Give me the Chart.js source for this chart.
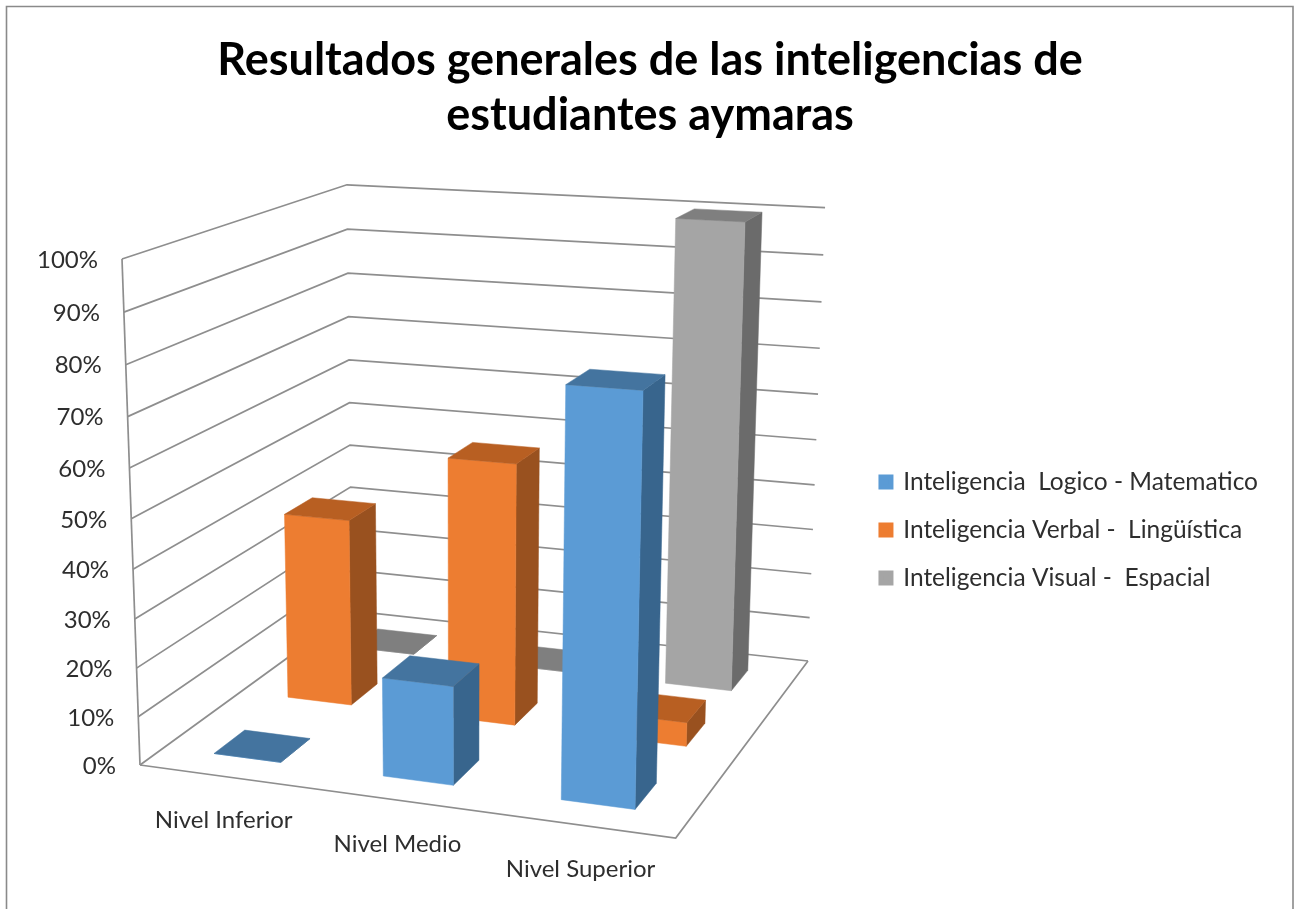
<!DOCTYPE html>
<html>
<head>
<meta charset="utf-8">
<style>html,body{margin:0;padding:0;background:#fff;overflow:hidden}canvas{display:block}</style>
<script src="https://cdn.jsdelivr.net/npm/chart.js@4"></script>
</head>
<body>
<canvas id="c" width="1297" height="909"></canvas>
<script>
const categories = ["Nivel Inferior", "Nivel Medio", "Nivel Superior"];
const seriesNames = ["Inteligencia  Logico - Matematico", "Inteligencia Verbal -  Lingüística", "Inteligencia Visual -  Espacial"];
const logicoValues = [0, 20, 80];
const verbalValues = [40, 55, 5];
const visualValues = [0, 0, 100];
const titleLines = ["Resultados generales de las inteligencias de", "estudiantes aymaras"];

const seriesColors = ["#5B9BD5", "#ED7D31", "#A5A5A5"];
const topColors = ["#44749F", "#B85F22", "#7F7F7F"];
const sideColors = ["#38658D", "#99511F", "#6B6B6B"];
const GRID = "#8E8E8E", TEXT = "#2E2E2E", FRAME = "#8A8A8A";

// The camera of the 3D view: corners of the floor, and where the verticals converge.
const floor = {a:[140,765], b:[675.7,838], c:[808,661], d:[352,611]};
const wallTopFront = [122,259], wallTopBackRight = [825,209];

function makeProjection() {
  const [x0,y0]=floor.a,[x1,y1]=floor.b,[x2,y2]=floor.c,[x3,y3]=floor.d;
  const dx1=x1-x2,dx2=x3-x2,sx=x0-x1+x2-x3,dy1=y1-y2,dy2=y3-y2,sy=y0-y1+y2-y3;
  const den=dx1*dy2-dx2*dy1;
  const g=(sx*dy2-dx2*sy)/den,h=(dx1*sy-sx*dy1)/den;
  const a=x1-x0+g*x1,b=x3-x0+h*x3,d=y1-y0+g*y1,e=y3-y0+h*y3;
  const mL=(wallTopFront[0]-x0)/(wallTopFront[1]-y0);
  const mR=(wallTopBackRight[0]-x2)/(wallTopBackRight[1]-y2);
  const vy=(x2-mR*y2-x0+mL*y0)/(mL-mR);
  const vx=x0+mL*(vy-y0);
  const k=(y0-wallTopFront[1])/(wallTopFront[1]-vy);
  return (u,v,t)=>{
    const w=g*u+h*v+1+k*t;
    return [(a*u+b*v+x0+k*t*vx)/w,(d*u+e*v+y0+k*t*vy)/w];
  };
}
const project = makeProjection();

function poly(ctx, pts, color) {
  ctx.beginPath();
  pts.forEach((p,i)=> i?ctx.lineTo(p[0],p[1]):ctx.moveTo(p[0],p[1]));
  ctx.closePath();
  ctx.fillStyle=color; ctx.fill();
  ctx.strokeStyle=color; ctx.lineWidth=0.5; ctx.stroke();
}
function line(ctx, p, q) { ctx.beginPath(); ctx.moveTo(p[0],p[1]); ctx.lineTo(q[0],q[1]); ctx.stroke(); }

const view3d = {
  id:"view3d",
  beforeDraw(chart){
    const ctx=chart.ctx;
    ctx.save();
    ctx.fillStyle="#fff"; ctx.fillRect(0,0,chart.width,chart.height);
    ctx.strokeStyle=FRAME; ctx.lineWidth=1.6;
    ctx.beginPath(); ctx.moveTo(6.5,chart.height); ctx.lineTo(6.5,6.5); ctx.lineTo(1293,6.5); ctx.lineTo(1293,chart.height); ctx.stroke();
    ctx.restore();
  },
  beforeDatasetsDraw(chart){
    const ctx=chart.ctx, xs=chart.scales.x, ys=chart.scales.y;
    const level=val=>(ys.bottom-ys.getPixelForValue(val))/ys.height;
    ctx.save();
    // walls and floor
    ctx.strokeStyle=GRID; ctx.lineWidth=1.7; ctx.lineJoin="miter";
    ys.ticks.forEach(tk=>{
      const t=level(tk.value);
      ctx.beginPath();
      [project(0,0,t),project(0,1,t),project(1,1,t)].forEach((p,i)=> i?ctx.lineTo(p[0],p[1]):ctx.moveTo(p[0],p[1]));
      ctx.stroke();
    });
    line(ctx,project(0,0,0),project(0,0,1));
    ctx.beginPath();
    [project(0,0,0),project(1,0,0),project(1,1,0)].forEach((p,i)=> i?ctx.lineTo(p[0],p[1]):ctx.moveTo(p[0],p[1]));
    ctx.stroke();
    // value labels
    ctx.fillStyle=TEXT; ctx.font="24px Lato"; ctx.textAlign="right"; ctx.textBaseline="middle";
    ys.ticks.forEach(tk=>{
      const p=project(0,0,level(tk.value));
      ctx.fillText(tk.label,p[0]-24,p[1]+1);
    });
    // category labels
    ctx.textAlign="center";
    categories.forEach((c,i)=>{
      const u=(xs.getPixelForValue(i)-xs.left)/xs.width;
      const p=project(u,0,0);
      ctx.fillText(xs.getLabelForValue(i),p[0],p[1]+44);
    });
    // bars, back row first
    const n=chart.data.datasets.length, catWidth=xs.width/categories.length;
    for(let s=n-1;s>=0;s--){
      chart.getDatasetMeta(s).data.forEach(el=>{
        const u0=(el.x-el.width/2-xs.left)/xs.width, u1=(el.x+el.width/2-xs.left)/xs.width;
        const half=(el.width/catWidth)/n/2, vc=(s+0.5)/n, v0=vc-half, v1=vc+half;
        const t=(ys.bottom-el.y)/ys.height, b=(ys.bottom-el.base)/ys.height;
        poly(ctx,[project(u1,v0,b),project(u1,v1,b),project(u1,v1,t),project(u1,v0,t)],sideColors[s]);
        poly(ctx,[project(u0,v0,b),project(u1,v0,b),project(u1,v0,t),project(u0,v0,t)],seriesColors[s]);
        poly(ctx,[project(u0,v0,t),project(u1,v0,t),project(u1,v1,t),project(u0,v1,t)],topColors[s]);
      });
    }
    ctx.restore();
    return false;
  }
};

new Chart(document.getElementById("c"),{
  type:"bar",
  data:{
    labels:categories,
    datasets:[logicoValues,verbalValues,visualValues].map((values,i)=>({
      label:seriesNames[i], data:values, backgroundColor:seriesColors[i], borderColor:seriesColors[i],
      barPercentage:0.4, categoryPercentage:1, grouped:false, borderWidth:5
    }))
  },
  options:{
    responsive:false, animation:false, devicePixelRatio:1,
    layout:{padding:{left:32,right:29}},
    scales:{
      x:{display:false, offset:true},
      y:{display:false, min:0, max:100, ticks:{stepSize:10, callback:v=>v+"%"}}
    },
    plugins:{
      tooltip:{enabled:false},
      title:{display:true, text:titleLines, color:"#000", align:"center",
        font:{family:"Lato", size:45, weight:"bold", lineHeight:1.244}, padding:{top:32,bottom:7}},
      legend:{display:true, position:"right", fullSize:false,
        labels:{color:TEXT, font:{family:"Lato", size:24.5}, boxWidth:10, boxHeight:10, padding:23.5}}
    }
  },
  plugins:[view3d]
});
</script>
</body>
</html>
